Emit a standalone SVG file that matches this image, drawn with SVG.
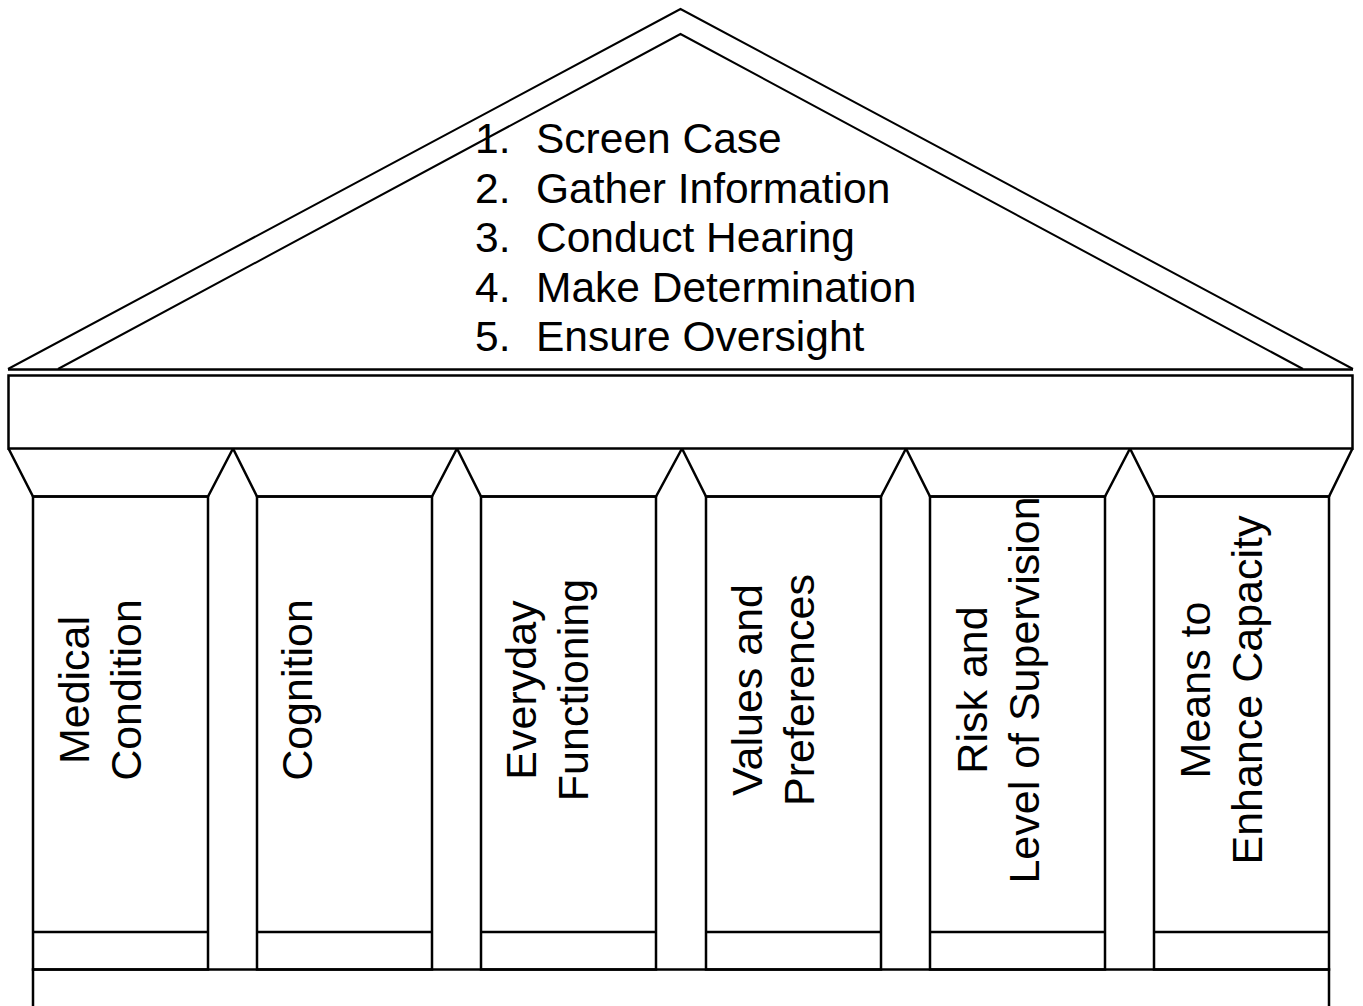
<svg xmlns="http://www.w3.org/2000/svg" width="1363" height="1006" viewBox="0 0 1363 1006">
<style>
.ln{fill:none;stroke:#000;stroke-width:2.5;stroke-linejoin:miter}
.rf{fill:none;stroke:#000;stroke-width:2}
.top{font-family:"Liberation Sans",Arial,sans-serif;font-size:42.5px;fill:#000}
.col{font-family:"Liberation Sans",Arial,sans-serif;font-size:43px;fill:#000;text-anchor:middle}
</style>
<rect width="1363" height="1006" fill="#fff"/>
<g id="roof">
<path class="rf" d="M8,369 L680.5,9 L1353,369"/>
<path class="rf" d="M58,369 L680.5,34 L1303,369"/>
<line class="ln" x1="8" y1="369.5" x2="1353" y2="369.5"/>
<text class="top"><tspan x="475" y="153">1.</tspan><tspan x="536" y="153">Screen Case</tspan></text>
<text class="top"><tspan x="475" y="202.5">2.</tspan><tspan x="536" y="202.5">Gather Information</tspan></text>
<text class="top"><tspan x="475" y="252">3.</tspan><tspan x="536" y="252">Conduct Hearing</tspan></text>
<text class="top"><tspan x="475" y="301.5">4.</tspan><tspan x="536" y="301.5">Make Determination</tspan></text>
<text class="top"><tspan x="475" y="351">5.</tspan><tspan x="536" y="351">Ensure Oversight</tspan></text>
</g>
<g id="beam">
<rect class="ln" x="8.5" y="375.5" width="1344" height="73"/>
</g>
<g id="col1">
<path class="ln" d="M8.5,448.5 L33,496.5 L208,496.5 L233,448.5"/>
<rect class="ln" x="33" y="496.5" width="175" height="473"/>
<line class="ln" x1="33" y1="932" x2="208" y2="932"/>
<text class="col" transform="translate(89,690) rotate(-90)">Medical</text>
<text class="col" transform="translate(141,690) rotate(-90)">Condition</text>
</g>
<g id="col2">
<path class="ln" d="M233,448.5 L257,496.5 L432,496.5 L457,448.5"/>
<rect class="ln" x="257" y="496.5" width="175" height="473"/>
<line class="ln" x1="257" y1="932" x2="432" y2="932"/>
<text class="col" transform="translate(312,690) rotate(-90)">Cognition</text>
</g>
<g id="col3">
<path class="ln" d="M457,448.5 L481,496.5 L656,496.5 L682,448.5"/>
<rect class="ln" x="481" y="496.5" width="175" height="473"/>
<line class="ln" x1="481" y1="932" x2="656" y2="932"/>
<text class="col" transform="translate(536,690) rotate(-90)">Everyday</text>
<text class="col" transform="translate(588,690) rotate(-90)">Functioning</text>
</g>
<g id="col4">
<path class="ln" d="M682,448.5 L706,496.5 L881,496.5 L906,448.5"/>
<rect class="ln" x="706" y="496.5" width="175" height="473"/>
<line class="ln" x1="706" y1="932" x2="881" y2="932"/>
<text class="col" transform="translate(762,690) rotate(-90)">Values and</text>
<text class="col" transform="translate(814,690) rotate(-90)">Preferences</text>
</g>
<g id="col5">
<path class="ln" d="M906,448.5 L930,496.5 L1105,496.5 L1130,448.5"/>
<rect class="ln" x="930" y="496.5" width="175" height="473"/>
<line class="ln" x1="930" y1="932" x2="1105" y2="932"/>
<text class="col" transform="translate(987,690) rotate(-90)">Risk and</text>
<text class="col" transform="translate(1039,690) rotate(-90)">Level of Supervision</text>
</g>
<g id="col6">
<path class="ln" d="M1130,448.5 L1154,496.5 L1329,496.5 L1352.5,448.5"/>
<rect class="ln" x="1154" y="496.5" width="175" height="473"/>
<line class="ln" x1="1154" y1="932" x2="1329" y2="932"/>
<text class="col" transform="translate(1210,690) rotate(-90)">Means to</text>
<text class="col" transform="translate(1262,690) rotate(-90)">Enhance Capacity</text>
</g>
<g id="plinth">
<path class="ln" d="M33,1010 L33,969.5 L1329,969.5 L1329,1010"/>
</g>
</svg>
